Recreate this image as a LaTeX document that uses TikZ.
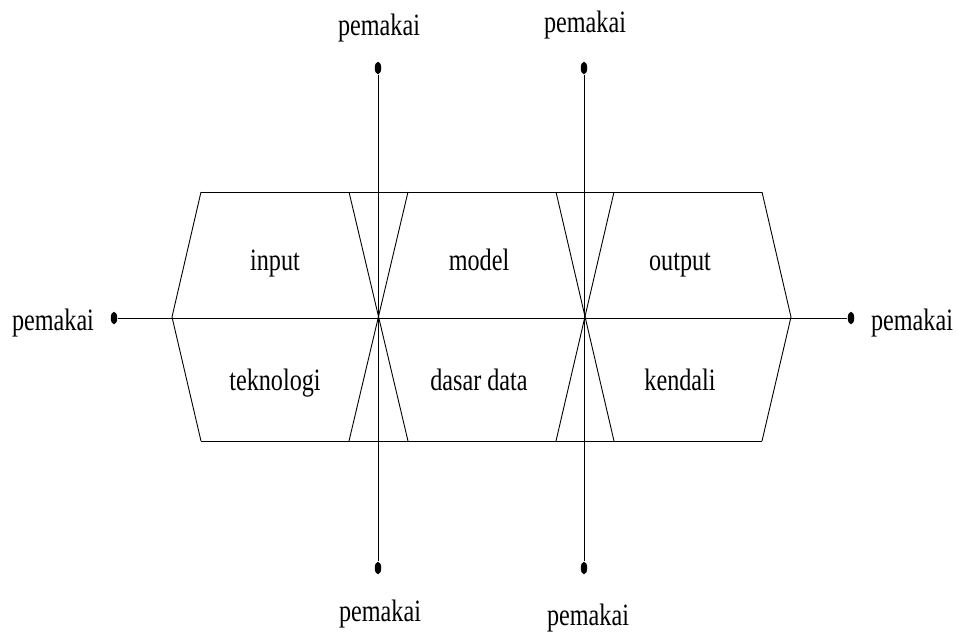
\documentclass[tikz,border=0pt]{standalone}
\usepackage{fontspec}
\setmainfont{Liberation Serif}
\usepackage{tikz}
\usetikzlibrary{shapes.geometric, positioning, calc}

\begin{document}
\begin{tikzpicture}[x=1pt, y=-1pt, line width=0.9pt,
    lbl/.style={font=\fontsize{31}{31}\selectfont, xscale=0.78, inner sep=0pt, anchor=base},
    dot/.style={ellipse, fill, inner sep=0pt, minimum width=6.5pt, minimum height=12.5pt}]
    \useasboundingbox (0,0) rectangle (958,635);

    % Corner points of the band
    \coordinate (tl) at (201,192);
    \coordinate (tr) at (762,192);
    \coordinate (bl) at (201,441);
    \coordinate (br) at (762,441);
    \coordinate (lp) at (172,317);
    \coordinate (rp) at (791,317);

    % Outline
    \draw (tl) -- (tr);
    \draw (bl) -- (br);
    \draw (tl) -- (lp) -- (bl);
    \draw (tr) -- (rp) -- (br);

    % Crossing slants
    \draw (349,192) coordinate (s1a) -- (408,441) coordinate (s1b);
    \draw (408,192) coordinate (s2a) -- (349,441) coordinate (s2b);
    \draw (556,192) coordinate (s3a) -- (614,441) coordinate (s3b);
    \draw (614,192) coordinate (s4a) -- (556,441) coordinate (s4b);

    % Dots
    \node[dot] (dl) at (114,318) {};
    \node[dot] (dr) at (851,318) {};
    \node[dot] (dt1) at (378,68) {};
    \node[dot] (db1) at (378,568) {};
    \node[dot] (dt2) at (584,68) {};
    \node[dot] (db2) at (584,568) {};

    % Lines between users
    \draw (dl) -- (dr);
    \draw (dt1) -- (db1);
    \draw (dt2) -- (db2);

    % Users
    \node[lbl] (pl) at (53,330) {pemakai};
    \node[lbl] (pr) at (912,330) {pemakai};
    \node[lbl] (pt1) at (379,35) {pemakai};
    \node[lbl] (pt2) at (585,32) {pemakai};
    \node[lbl] (pb1) at (380,621) {pemakai};
    \node[lbl] (pb2) at (588,625) {pemakai};

    % Parts
    \node[lbl] (inp) at (275,270) {input};
    \node[lbl] (mdl) at (479,270) {model};
    \node[lbl] (outp) at (680,270) {output};
    \node[lbl] (tek) at (275,390) {teknologi};
    \node[lbl] (dsr) at (479,390) {dasar data};
    \node[lbl] (kdl) at (680,390) {kendali};
\end{tikzpicture}
\end{document}
